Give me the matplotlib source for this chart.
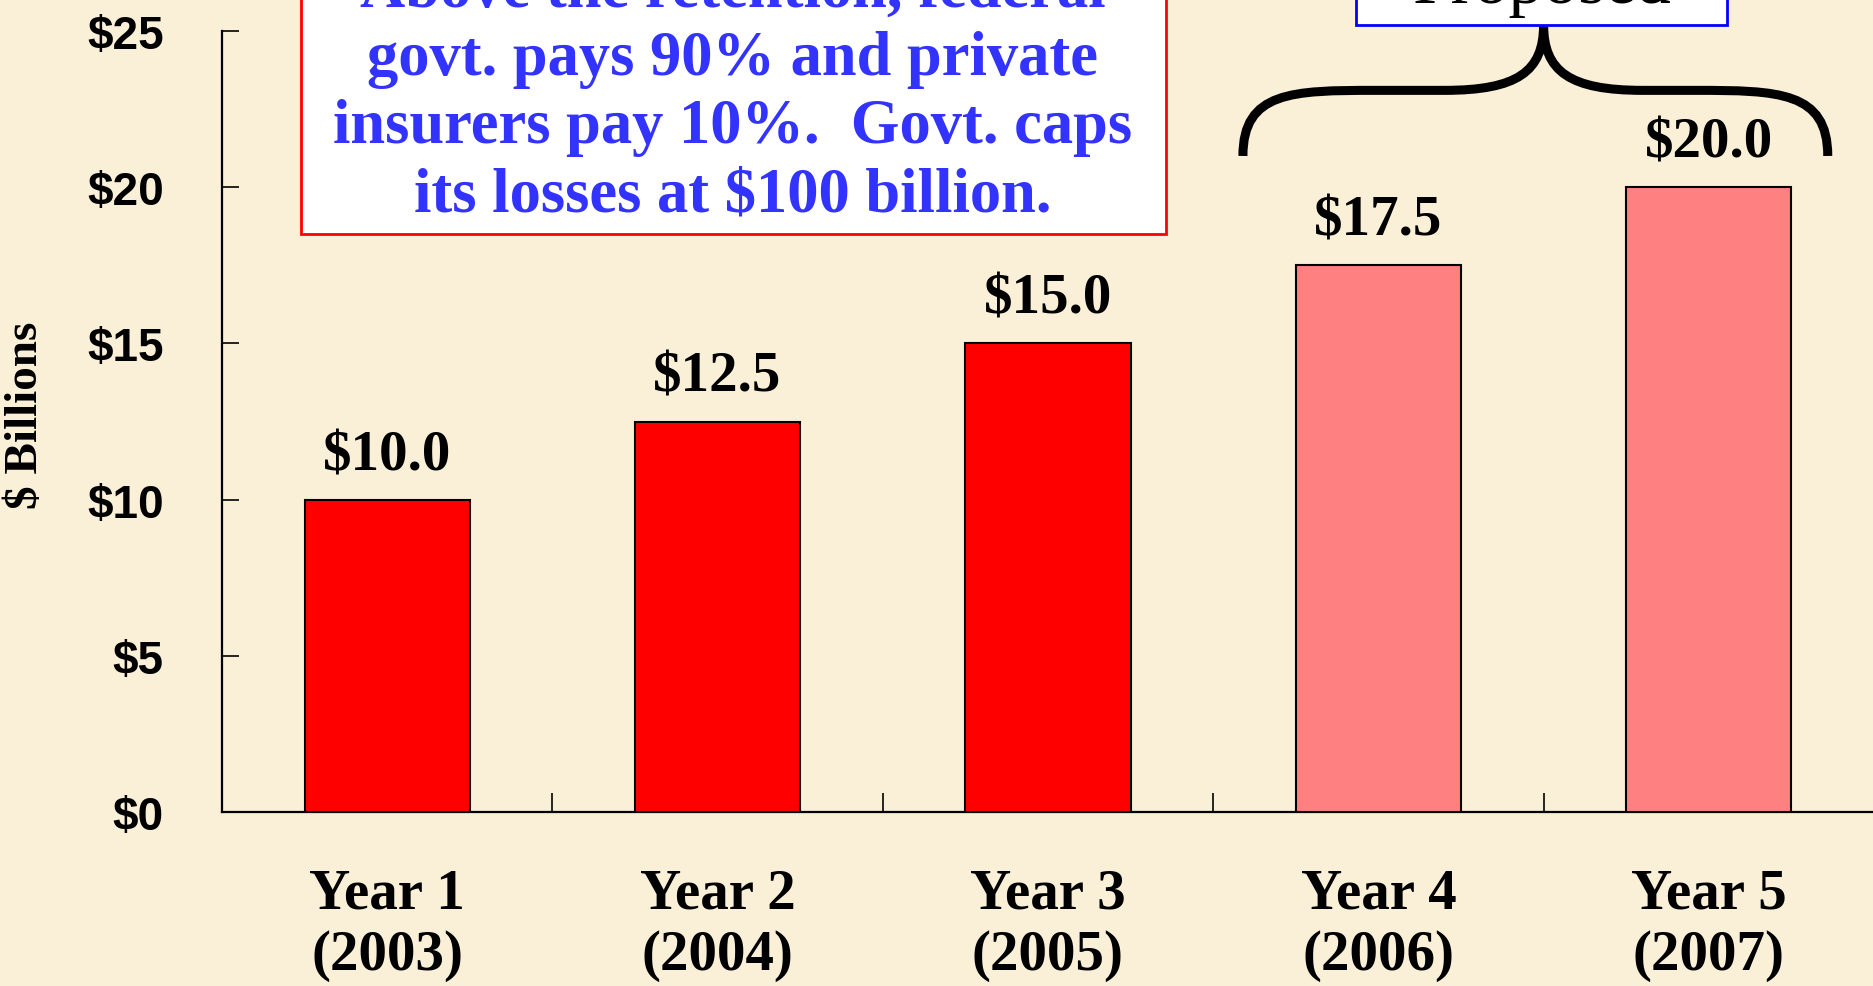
import matplotlib
matplotlib.use("Agg")
import matplotlib.pyplot as plt
from matplotlib.path import Path
from matplotlib.patches import PathPatch, Rectangle

# Chart data
categories = ["Year 1\n(2003)", "Year 2\n(2004)", "Year 3\n(2005)", "Year 4\n(2006)", "Year 5\n(2007)"]
values = [10.0, 12.5, 15.0, 17.5, 20.0]
proposed = [False, False, False, True, True]
y_ticks = [0, 5, 10, 15, 20, 25]
y_tick_labels = ["$0", "$5", "$10", "$15", "$20", "$25"]
note_lines = [
    "Above the retention, federal",
    "govt. pays 90% and private",
    "insurers pay 10%.  Govt. caps",
    "its losses at $100 billion.",
]
proposed_label = "Proposed"

BG = "#FAF0D8"
RED = "#FF0000"
LIGHT_RED = "#FF8080"
SERIF = ["Liberation Serif", "DejaVu Serif"]
SANS = ["Liberation Sans", "DejaVu Sans"]

W, H = 1874, 987
fig = plt.figure(figsize=(W / 100, H / 100), dpi=100, facecolor=BG)
ax = fig.add_axes([222 / W, 1 - 813 / H, 1 - 222 / W, (813 - 32) / H])
ax.set_facecolor("none")

x = list(range(len(values)))
colors = [LIGHT_RED if p else RED for p in proposed]
ax.bar(x, values, width=0.5, color=colors, edgecolor="black", linewidth=1.5, zorder=3)

for xi, v in zip(x, values):
    ax.annotate(f"${v:.1f}", (xi, v), xytext=(0, 22), textcoords="offset points",
                ha="center", va="baseline", fontsize=41, fontweight="bold",
                family=SERIF, color="black")

ax.set_xlim(-0.5, len(values) - 0.5)
ax.set_ylim(0, 25)

# spines
for side in ["top", "right"]:
    ax.spines[side].set_visible(False)
ax.spines["left"].set_linewidth(1.6)
ax.spines["bottom"].set_linewidth(1.6)

# y axis
ax.set_yticks(y_ticks)
ax.set_yticklabels(y_tick_labels)
ax.tick_params(axis="y", direction="in", length=12, width=1.2, pad=42,
               labelsize=33)
for lab in ax.get_yticklabels():
    lab.set_family(SANS)
    lab.set_fontweight("heavy")

# x axis: boundary ticks, labels at centers
ax.set_xticks([i + 0.5 for i in x[:-1]])
ax.set_xticklabels([])
ax.set_xticks(x, minor=True)
ax.set_xticklabels(categories, minor=True)
ax.tick_params(axis="x", which="major", direction="in", length=14, width=1.2)
ax.tick_params(axis="x", which="minor", length=0, pad=40, labelsize=41)
for lab in ax.get_xticklabels(minor=True):
    lab.set_family(SERIF)
    lab.set_fontweight("bold")
    lab.set_linespacing(1.22)

fig.text(26 / W, 1 - 415 / H, "$ Billions", rotation=90, ha="center", va="center",
         fontsize=34, fontweight="bold", family=SERIF)

# note box (top left, partly cut off)
fig.patches.append(Rectangle((301 / W, 1 - 235 / H), (1166 - 301) / W, 0.4,
                             transform=fig.transFigure, facecolor="white",
                             edgecolor="#FF0000", linewidth=2, zorder=5))
for i, line in enumerate(note_lines):
    base = 212 - (len(note_lines) - 1 - i) * 68.5
    fig.text(733 / W, 1 - base / H, line, ha="center", va="baseline",
             fontsize=45, fontweight="bold", family=SERIF, color="#3333FF", zorder=6)

# proposed box (top right, cut off)
fig.patches.append(Rectangle((1356 / W, 1 - 26 / H), (1727 - 1356) / W, 0.2,
                             transform=fig.transFigure, facecolor="white",
                             edgecolor="#0000FF", linewidth=2, zorder=5))
fig.text(1542 / W, 1 - 3 / H, proposed_label, ha="center", va="baseline",
         fontsize=50, family=SERIF, color="black", zorder=6)

# curly brace over the proposed years
def brace(ax, xl, xc, xr, y_tip, y_mid, y_top):
    verts = [
        (xl, y_tip),
        (xl, y_mid - 0.3 * (y_mid - y_tip) + 0.6), (xl + 0.15, y_mid), (xl + 0.40, y_mid),
        (xc - 0.30, y_mid),
        (xc - 0.08, y_mid), (xc, y_mid + 0.6), (xc, y_top),
        (xc, y_mid + 0.6), (xc + 0.08, y_mid), (xc + 0.30, y_mid),
        (xr - 0.40, y_mid),
        (xr - 0.15, y_mid), (xr, y_mid - 0.3 * (y_mid - y_tip) + 0.6), (xr, y_tip),
    ]
    codes = [Path.MOVETO,
             Path.CURVE4, Path.CURVE4, Path.CURVE4,
             Path.LINETO,
             Path.CURVE4, Path.CURVE4, Path.CURVE4,
             Path.CURVE4, Path.CURVE4, Path.CURVE4,
             Path.LINETO,
             Path.CURVE4, Path.CURVE4, Path.CURVE4]
    ax.add_patch(PathPatch(Path(verts, codes), facecolor="none", edgecolor="black",
                           linewidth=6.5, capstyle="butt", clip_on=False, zorder=4))

brace(ax, 2.59, 3.5, 4.36, 21.0, 23.1, 25.2)

fig.savefig("out.png", dpi=100, facecolor=BG)
